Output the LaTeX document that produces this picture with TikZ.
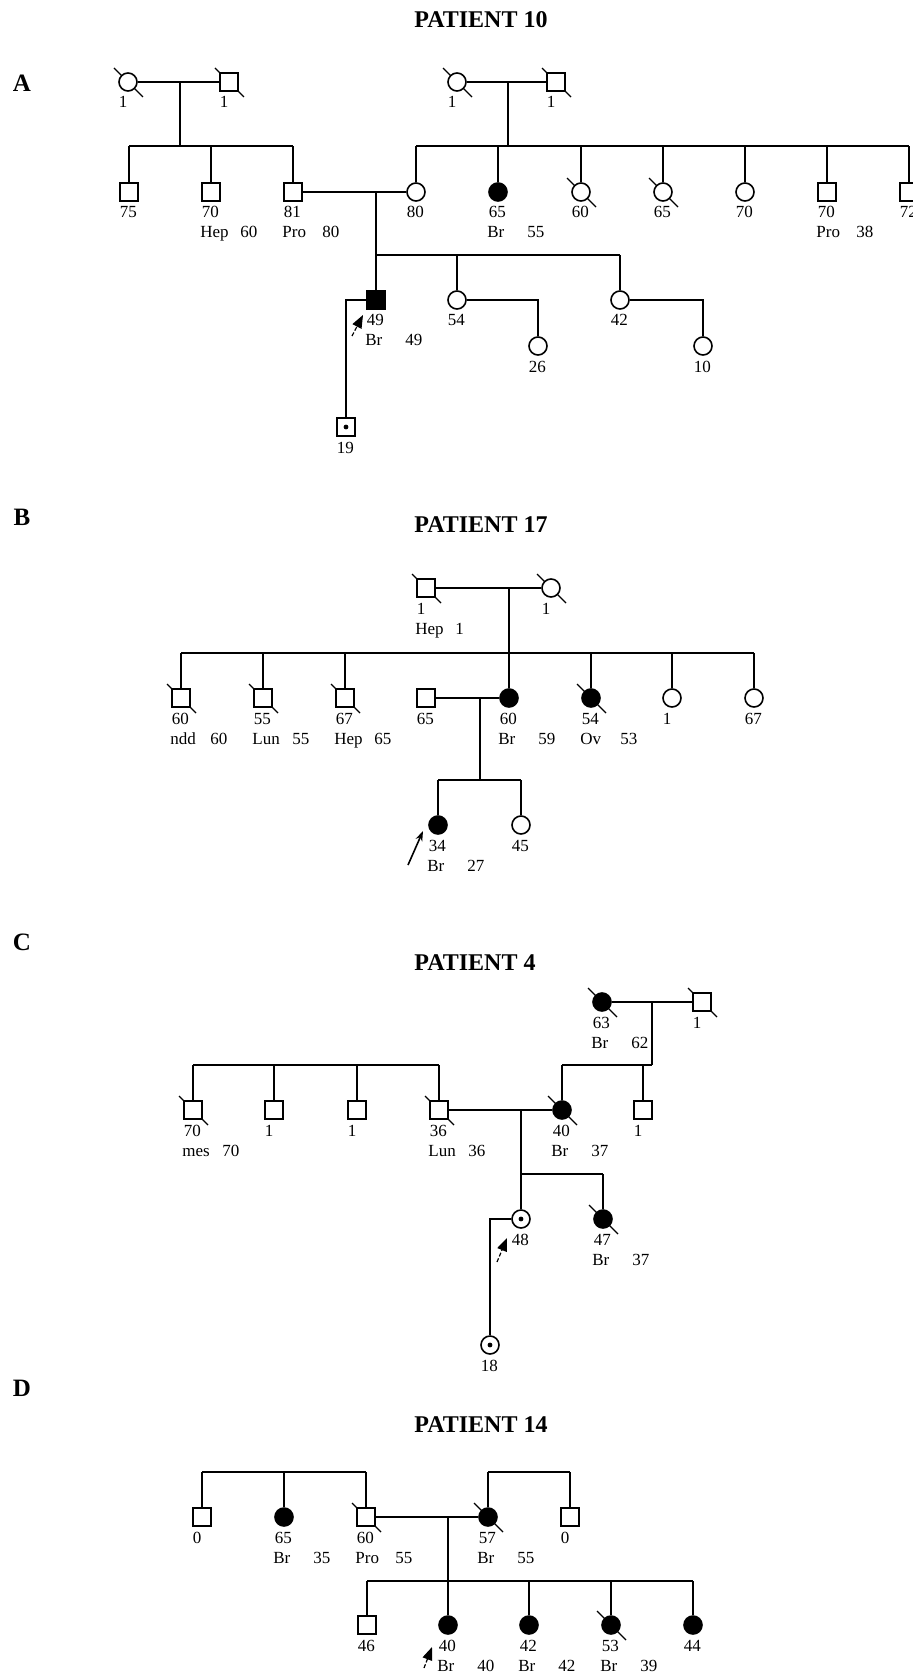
\documentclass[tikz,border=0pt]{standalone}
\usepackage{fontspec}
\setmainfont{Liberation Serif}
\usetikzlibrary{calc,arrows.meta}
\pgfdeclarelayer{bg}
\pgfsetlayers{bg,main}
\tikzset{
  ln/.style={line width=0.8pt},
  male/.style={draw, line width=0.8pt, rectangle, minimum size=9pt, inner sep=0pt, fill=white},
  female/.style={draw, line width=0.8pt, circle, minimum size=9pt, inner sep=0pt, fill=white},
  aff/.style={fill=black},
  txt/.style={anchor=base west, inner sep=0pt, font=\fontsize{8.5}{10}\selectfont},
  ttl/.style={inner sep=0pt, font=\fontsize{12}{14}\selectfont\bfseries},
  plet/.style={inner sep=0pt, font=\fontsize{12.5}{14}\selectfont\bfseries},
  slash/.style={line width=0.6pt},
  proA/.style={line width=0.6pt, dash pattern=on 2pt off 1pt, -{Triangle[length=6.5pt,width=5pt]}},
  proB/.style={line width=0.8pt, -{Stealth[length=5pt,width=3.5pt]}},
}
\newcommand\plab[2]{\node[txt] (#1-n) at ($(#1)+(-9.5,26)$) {#2};}
\newcommand\plabb[4]{\node[txt] (#1-n) at ($(#1)+(-9.5,26)$) {#2};
  \node[txt] (#1-d) at ($(#1)+(-11,46)$) {#3};
  \node[txt] (#1-a) at ($(#1)+(29,46)$) {#4};}
\newcommand\dead[1]{\begin{pgfonlayer}{bg}\draw[slash] ([shift={(-14,-14)}]#1.center) -- ([shift={(15,15)}]#1.center);\end{pgfonlayer}}
\newcommand\carr[1]{\fill (#1.center) circle[radius=1.2pt];}
\begin{document}
\begin{tikzpicture}[x=0.5pt,y=-0.5pt]
\useasboundingbox (0,0) rectangle (913,1674);

% ================= PANEL A =================
\node[plet] (labA) at (22,83) {A};
\node[ttl] (tA) at (481,20) {PATIENT 10};
\node[female] (gm1) at (128,82) {};
\node[male] (gf1) at (229,82) {};
\node[female] (gm2) at (457,82) {};
\node[male] (gf2) at (556,82) {};
\coordinate (m1) at (180,82); \coordinate (sib1) at (180,146);
\coordinate (m2) at (508,82); \coordinate (sib2) at (508,146);
\node[male] (a75) at (129,192) {};
\node[male] (a70) at (211,192) {};
\node[male] (a81) at (293,192) {};
\node[female] (a80) at (416,192) {};
\node[female,aff] (a65) at (498,192) {};
\node[female] (a60) at (581,192) {};
\node[female] (a65b) at (663,192) {};
\node[female] (a70b) at (745,192) {};
\node[male] (a70c) at (827,192) {};
\node[male] (a72) at (909,192) {};
\coordinate (m3) at (376,192); \coordinate (sib3) at (376,255);
\node[male,aff] (p49) at (376,300) {};
\node[female] (a54) at (457,300) {};
\node[female] (a42) at (620,300) {};
\node[male] (a19) at (346,427) {};
\node[female] (a26) at (538,346) {};
\node[female] (a10) at (703,346) {};

\draw[ln] (gm1) -- (gf1);
\draw[ln] (m1) -- (sib1);
\draw[ln] (a75 |- sib1) -- (a81 |- sib1);
\foreach \c in {a75,a70,a81} \draw[ln] (\c) -- (\c |- sib1);
\draw[ln] (gm2) -- (gf2);
\draw[ln] (m2) -- (sib2);
\draw[ln] (a80 |- sib2) -- (a72 |- sib2);
\foreach \c in {a80,a65,a60,a65b,a70b,a70c,a72} \draw[ln] (\c) -- (\c |- sib2);
\draw[ln] (a81) -- (a80);
\draw[ln] (m3) -- (sib3);
\draw[ln] (p49 |- sib3) -- (a42 |- sib3);
\foreach \c in {p49,a54,a42} \draw[ln] (\c) -- (\c |- sib3);
\draw[ln] (p49) -| (a19);
\draw[ln] (a54) -| (a26);
\draw[ln] (a42) -| (a10);
\dead{gm1}\dead{gf1}\dead{gm2}\dead{gf2}\dead{a60}\dead{a65b}
\carr{a19}
\plab{gm1}{1}\plab{gf1}{1}\plab{gm2}{1}\plab{gf2}{1}
\plab{a75}{75}
\plabb{a70}{70}{Hep}{60}
\plabb{a81}{81}{Pro}{80}
\plab{a80}{80}
\plabb{a65}{65}{Br}{55}
\plab{a60}{60}\plab{a65b}{65}\plab{a70b}{70}
\plabb{a70c}{70}{Pro}{38}
\plab{a72}{72}
\plabb{p49}{49}{Br}{49}
\plab{a54}{54}\plab{a42}{42}\plab{a26}{26}\plab{a10}{10}\plab{a19}{19}
\coordinate (arA1) at (352,336); \coordinate (arA2) at (363,315);
\draw[proA] (arA1) -- (arA2);

% ================= PANEL B =================
\node[plet] (labB) at (22,517) {B};
\node[ttl] (tB) at (481,525) {PATIENT 17};
\node[male] (bgf) at (426,588) {};
\node[female] (bgm) at (551,588) {};
\coordinate (m4) at (509,588); \coordinate (sib4) at (509,653);
\node[male] (b60) at (181,698) {};
\node[male] (b55) at (263,698) {};
\node[male] (b67) at (345,698) {};
\node[male] (b65) at (426,698) {};
\node[female,aff] (b60f) at (509,698) {};
\node[female,aff] (b54) at (591,698) {};
\node[female] (b1) at (672,698) {};
\node[female] (b67f) at (754,698) {};
\coordinate (m5) at (480,698); \coordinate (sib5) at (480,780);
\node[female,aff] (b34) at (438,825) {};
\node[female] (b45) at (521,825) {};

\draw[ln] (bgf) -- (bgm);
\draw[ln] (m4) -- (sib4);
\draw[ln] (b60 |- sib4) -- (b67f |- sib4);
\foreach \c in {b60,b55,b67,b60f,b54,b1,b67f} \draw[ln] (\c) -- (\c |- sib4);
\draw[ln] (b65) -- (b60f);
\draw[ln] (m5) -- (sib5);
\draw[ln] (b34 |- sib5) -- (b45 |- sib5);
\foreach \c in {b34,b45} \draw[ln] (\c) -- (\c |- sib5);
\dead{bgf}\dead{bgm}\dead{b60}\dead{b55}\dead{b67}\dead{b54}
\plabb{bgf}{1}{Hep}{1}
\plab{bgm}{1}
\plabb{b60}{60}{ndd}{60}
\plabb{b55}{55}{Lun}{55}
\plabb{b67}{67}{Hep}{65}
\plab{b65}{65}
\plabb{b60f}{60}{Br}{59}
\plabb{b54}{54}{Ov}{53}
\plab{b1}{1}\plab{b67f}{67}
\plabb{b34}{34}{Br}{27}
\plab{b45}{45}
\coordinate (arB1) at (408,865); \coordinate (arB2) at (423,831);
\draw[proB] (arB1) -- (arB2);

% ================= PANEL C =================
\node[plet] (labC) at (22,942) {C};
\node[ttl] (tC) at (475,963) {PATIENT 4};
\node[female,aff] (cgm) at (602,1002) {};
\node[male] (cgf) at (702,1002) {};
\coordinate (m6) at (652,1002); \coordinate (sib6) at (652,1065);
\node[female,aff] (c40) at (562,1110) {};
\node[male] (c1r) at (643,1110) {};
\coordinate (sib7) at (193,1065);
\node[male] (c70) at (193,1110) {};
\node[male] (c1a) at (274,1110) {};
\node[male] (c1b) at (357,1110) {};
\node[male] (c36) at (439,1110) {};
\coordinate (m7) at (521,1110); \coordinate (sib8) at (521,1174);
\node[female] (c48) at (521,1219) {};
\node[female,aff] (c47) at (603,1219) {};
\node[female] (c18) at (490,1345) {};

\draw[ln] (cgm) -- (cgf);
\draw[ln] (m6) -- (sib6);
\draw[ln] (c40 |- sib6) -- (sib6);
\foreach \c in {c40,c1r} \draw[ln] (\c) -- (\c |- sib6);
\draw[ln] (c70 |- sib7) -- (c36 |- sib7);
\foreach \c in {c70,c1a,c1b,c36} \draw[ln] (\c) -- (\c |- sib7);
\draw[ln] (c36) -- (c40);
\draw[ln] (m7) -- (c48);
\draw[ln] (sib8) -- (c47 |- sib8);
\draw[ln] (c47) -- (c47 |- sib8);
\draw[ln] (c48) -| (c18);
\dead{cgm}\dead{cgf}\dead{c40}\dead{c70}\dead{c36}\dead{c47}
\carr{c48}\carr{c18}
\plabb{cgm}{63}{Br}{62}
\plab{cgf}{1}
\plabb{c40}{40}{Br}{37}
\plab{c1r}{1}
\plabb{c70}{70}{mes}{70}
\plab{c1a}{1}\plab{c1b}{1}
\plabb{c36}{36}{Lun}{36}
\plab{c48}{48}
\plabb{c47}{47}{Br}{37}
\plab{c18}{18}
\coordinate (arC1) at (497,1262); \coordinate (arC2) at (507,1238);
\draw[proA] (arC1) -- (arC2);

% ================= PANEL D =================
\node[plet] (labD) at (22,1388) {D};
\node[ttl] (tD) at (481,1425) {PATIENT 14};
\coordinate (sib9) at (202,1472);
\coordinate (sib10) at (488,1472);
\node[male] (d0) at (202,1517) {};
\node[female,aff] (d65) at (284,1517) {};
\node[male] (d60) at (366,1517) {};
\node[female,aff] (d57) at (488,1517) {};
\node[male] (d0b) at (570,1517) {};
\coordinate (m8) at (448,1517); \coordinate (sib11) at (448,1581);
\node[male] (d46) at (367,1625) {};
\node[female,aff] (d40) at (448,1625) {};
\node[female,aff] (d42) at (529,1625) {};
\node[female,aff] (d53) at (611,1625) {};
\node[female,aff] (d44) at (693,1625) {};

\draw[ln] (d0 |- sib9) -- (d60 |- sib9);
\foreach \c in {d0,d65,d60} \draw[ln] (\c) -- (\c |- sib9);
\draw[ln] (d57 |- sib10) -- (d0b |- sib10);
\foreach \c in {d57,d0b} \draw[ln] (\c) -- (\c |- sib10);
\draw[ln] (d60) -- (d57);
\draw[ln] (m8) -- (sib11);
\draw[ln] (d46 |- sib11) -- (d44 |- sib11);
\foreach \c in {d46,d40,d42,d53,d44} \draw[ln] (\c) -- (\c |- sib11);
\dead{d60}\dead{d57}\dead{d53}
\plab{d0}{0}
\plabb{d65}{65}{Br}{35}
\plabb{d60}{60}{Pro}{55}
\plabb{d57}{57}{Br}{55}
\plab{d0b}{0}
\plab{d46}{46}
\plabb{d40}{40}{Br}{40}
\plabb{d42}{42}{Br}{42}
\plabb{d53}{53}{Br}{39}
\plab{d44}{44}
\coordinate (arD1) at (424,1668); \coordinate (arD2) at (432,1647);
\draw[proA] (arD1) -- (arD2);
\end{tikzpicture}
\end{document}
